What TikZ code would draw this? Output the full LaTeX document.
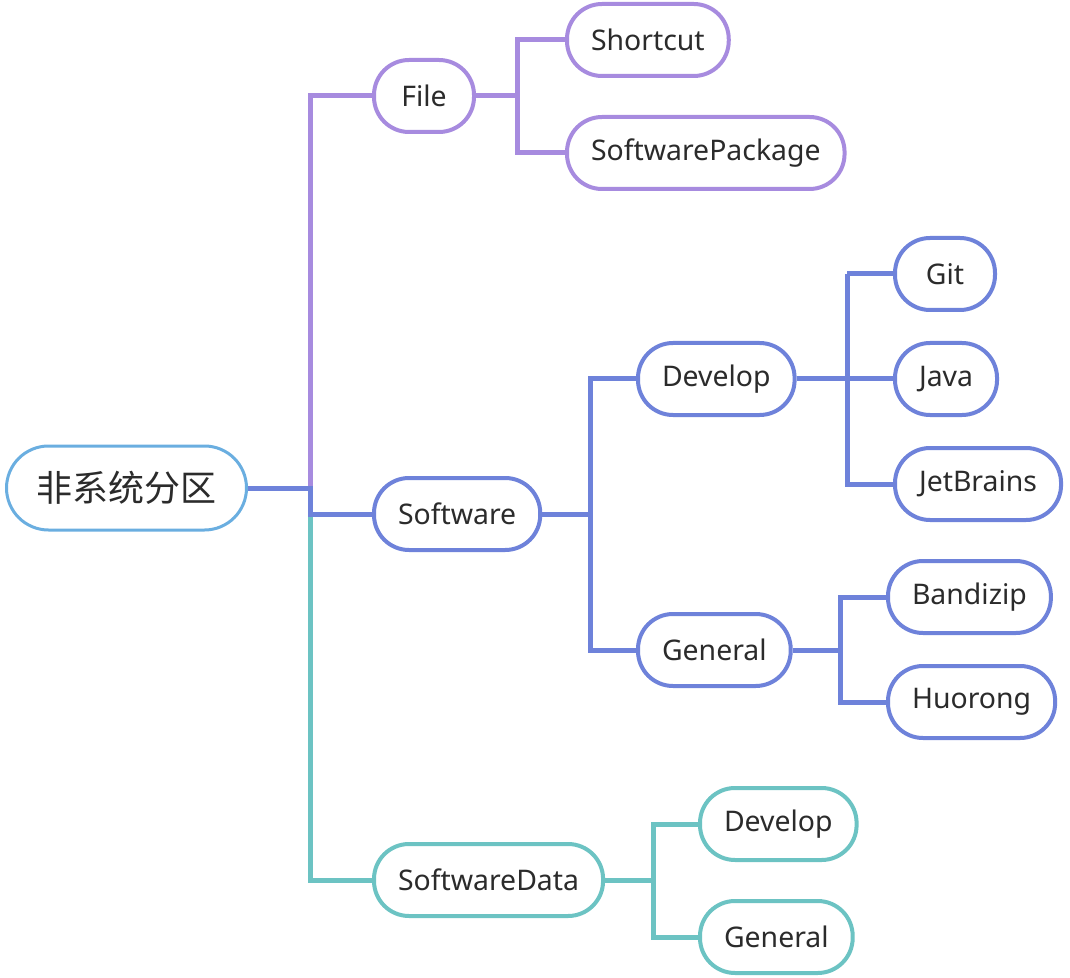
\documentclass[tikz,border=0pt]{standalone}
\usepackage{fontspec}
\setmainfont{Noto Sans}
\newfontfamily\cjk{Noto Sans CJK SC}
\definecolor{filep}{HTML}{A78BDF}
\definecolor{softb}{HTML}{6E82DA}
\definecolor{datat}{HTML}{6CC3C3}
\definecolor{rootb}{HTML}{6AAEE0}
\definecolor{txt}{HTML}{2B2B2B}

\tikzset{
  topic/.style={draw=#1, line width=2pt, fill=white, rounded corners=17.5pt,
    minimum height=36pt, minimum width=50pt, inner xsep=12pt, anchor=west,
    text=txt, font=\fontsize{14.2}{16}\selectfont},
  link/.style={draw=#1, line width=2.5pt},
}

\begin{document}
\begin{tikzpicture}[x=0.5pt, y=-0.5pt]
  \useasboundingbox (0,0) rectangle (1070,978);

  % central topic
  \node[topic=rootb, line width=1.5pt, rounded corners=21pt, minimum height=42pt,
        inner xsep=15pt, font=\fontsize{18}{20}\selectfont] (root) at (5,488) {\cjk 非系统分区};

  % main branches
  \node[topic=filep] (file) at (372,96)  {File};
  \node[topic=softb] (sw)   at (372,514) {Software};
  \node[topic=datat] (swd)  at (372,880) {SoftwareData};

  % File
  \node[topic=filep] (sc) at (565,40)  {Shortcut};
  \node[topic=filep] (sp) at (565,153) {SoftwarePackage};

  % Software
  \node[topic=softb] (dev) at (636,379) {Develop};
  \node[topic=softb] (gen) at (636,650) {General};
  \node[topic=softb] (git) at (893,274) {Git};
  \node[topic=softb] (java) at (893,379) {Java};
  \node[topic=softb] (jb)  at (893,484) {JetBrains};
  \node[topic=softb] (bz)  at (886,597) {Bandizip};
  \node[topic=softb] (hr)  at (886,702) {Huorong};

  % SoftwareData
  \node[topic=datat] (ddev) at (698,824) {Develop};
  \node[topic=datat] (dgen) at (698,937) {General};

  % trunk
  \draw[link=filep] (file.west) -- ++(-31pt,0) |- (root.east);
  \draw[link=datat] (swd.west) -- ++(-31pt,0) |- (sw.west);
  \draw[link=softb] (root.east) -| ([xshift=-31pt]sw.west) -- (sw.west);

  % sub branches
  \draw[link=filep] (file.east) -| ([xshift=-24pt]sc.west) -- (sc.west);
  \draw[link=filep] ([xshift=-24pt]sc.west) |- (sp.west);

  \draw[link=softb] (sw.east) -| ([xshift=-23pt]dev.west) -- (dev.west);
  \draw[link=softb] ([xshift=-23pt]dev.west) |- (gen.west);

  \draw[link=softb] (dev.east) -- (java.west);
  \draw[link=softb] ([xshift=-23pt]git.west) -- (git.west);
  \draw[link=softb] ([xshift=-23pt]git.west) |- (jb.west);

  \draw[link=softb] (gen.east) -| ([xshift=-23pt]bz.west) -- (bz.west);
  \draw[link=softb] ([xshift=-23pt]bz.west) |- (hr.west);

  \draw[link=datat] (swd.east) -| ([xshift=-22.5pt]ddev.west) -- (ddev.west);
  \draw[link=datat] ([xshift=-22.5pt]ddev.west) |- (dgen.west);
\end{tikzpicture}
\end{document}
